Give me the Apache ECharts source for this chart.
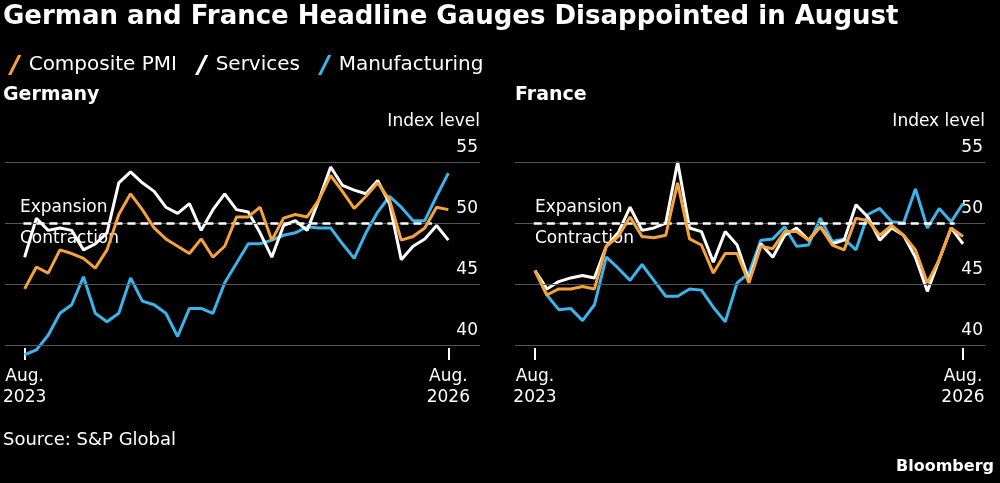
<!DOCTYPE html>
<html><head><meta charset="utf-8">
<script src="https://cdn.jsdelivr.net/npm/echarts@6/dist/echarts.min.js"></script>
<style>body{margin:0;background:#000}#c{width:1000px;height:483px}</style>
</head><body><div id="c"></div>
<script>
var xLabels = ['Aug.\n2023', 'Aug.\n2026'];
var yTicks = [40, 45, 50, 55];

var deComposite = [44.6,46.4,45.9,47.8,47.5,47.1,46.3,47.8,50.7,52.4,51.1,49.6,48.7,48.1,47.5,48.7,47.2,48.1,50.5,50.5,51.3,48.6,50.4,50.7,50.5,51.9,53.9,52.6,51.2,52.2,53.3,51.9,48.6,48.9,49.6,51.3,51.1];
var deServices = [47.2,50.4,49.4,49.6,49.4,47.8,48.3,49.2,53.3,54.2,53.3,52.6,51.3,50.8,51.6,49.4,51.1,52.4,51.1,50.9,49.2,47.2,49.8,50.2,49.4,51.9,54.6,53.1,52.7,52.4,53.5,51.6,47.0,48.1,48.7,49.8,48.6];
var deManufacturing = [39.2,39.6,40.8,42.6,43.3,45.6,42.6,41.9,42.6,45.5,43.6,43.3,42.6,40.7,43.0,43.0,42.6,45.1,46.7,48.3,48.3,48.6,49.0,49.2,49.7,49.6,49.6,48.3,47.1,49.2,50.9,52.2,51.3,50.2,50.2,52.2,54.1];

var frComposite = [46.1,44.1,44.6,44.6,44.8,44.6,48.1,48.9,50.5,48.9,48.8,49.0,53.3,48.7,48.2,45.9,47.5,47.5,45.1,48.1,47.9,49.3,49.3,48.6,49.7,48.2,47.8,50.4,50.2,49.0,49.8,49.0,47.8,45.1,47.0,49.6,48.9];
var frServices = [46.1,44.6,45.2,45.5,45.7,45.5,48.1,49.2,51.3,49.4,49.6,50.0,55.0,49.6,49.3,46.8,49.3,48.2,45.3,48.3,47.2,49.0,49.6,48.6,49.7,48.3,48.6,51.5,50.5,48.6,49.6,49.0,47.2,44.4,47.0,49.6,48.3];
var frManufacturing = [46.1,44.1,42.9,43.0,42.0,43.3,47.2,46.3,45.3,46.6,45.3,44.0,44.0,44.6,44.5,43.1,41.9,45.1,45.9,48.6,48.7,49.7,48.1,48.2,50.4,48.5,48.7,47.8,50.7,51.2,50.1,50.0,52.8,49.6,51.2,50.1,51.6];

var ORANGE = '#f6a23a', WHITE = '#ffffff', BLUE = '#3ab4ea';
var FONT = '"DejaVu Sans", sans-serif';
var last = deComposite.length - 1;

function pairs(arr) { return arr.map(function (v, i) { return [i, v]; }); }

function line(name, data, color, g) {
    return { name: name, type: 'line', xAxisIndex: g, yAxisIndex: g, data: pairs(data),
        symbol: 'none', lineStyle: { color: color, width: 3 }, itemStyle: { color: color }, z: color === BLUE ? 3 : (color === WHITE ? 4 : 5) };
}

function guide(g) {
    return { type: 'line', xAxisIndex: g, yAxisIndex: g, data: [], silent: true,
        markLine: { silent: true, symbol: 'none', label: { show: false },
            lineStyle: { color: '#555', type: 'solid', width: 1 },
            data: yTicks.map(function (t) { return { yAxis: t }; }).concat([
                [{ coord: [-0.1, 50], lineStyle: { color: '#fff', type: [8, 5], width: 2.5 } },
                 { coord: [g === 0 ? 34.6 : 35.3, 50] }]
            ]) } };
}

function xAx(g, max) {
    return { type: 'value', gridIndex: g, min: -1.68, max: max,
        axisLine: { show: false }, splitLine: { show: false },
        axisTick: { show: true, inside: true, length: 12, customValues: [0, last], lineStyle: { color: '#fff', width: 2 } },
        axisLabel: { customValues: [0, last], formatter: function (v) { return v === 0 ? xLabels[0] : xLabels[1]; },
            color: '#fff', fontSize: 17, fontFamily: FONT, lineHeight: 21, margin: 6 } };
}
function yAx(g) {
    return { type: 'value', gridIndex: g, min: 38.77, max: 55.5, position: 'right',
        splitLine: { show: false }, axisLine: { show: false }, axisTick: { show: false },
        axisLabel: { inside: true, customValues: yTicks, color: '#fff', fontSize: 17, fontFamily: FONT,
            verticalAlign: 'bottom', margin: 2, padding: [0, 0, 6, 0] } };
}

var chart = echarts.init(document.getElementById('c'));
chart.setOption({
    backgroundColor: '#000',
    animation: false,
    textStyle: { fontFamily: FONT },
    grid: [
        { left: 0, width: 480, top: 156, height: 204 },
        { left: 515, width: 470, top: 156, height: 204 }
    ],
    xAxis: [xAx(0, 38.69), xAx(1, 37.85)],
    yAxis: [yAx(0), yAx(1)],
    legend: { left: 3, top: 50, itemGap: 18, itemWidth: 14, itemHeight: 20,
        icon: 'path://M0,18L9,0L12,0L3,18Z',
        textStyle: { color: '#fff', fontSize: 20, fontFamily: FONT, padding: [0, 0, 0, 2] },
        data: ['Composite PMI', 'Services', 'Manufacturing'] },
    graphic: [
        { type: 'text', left: 3, top: 4, style: { text: 'German and France Headline Gauges Disappointed in August', fill: '#fff', font: 'bold 26px ' + FONT } },
        { type: 'text', left: 3, top: 86, style: { text: 'Germany', fill: '#fff', font: 'bold 19px ' + FONT } },
        { type: 'text', left: 515, top: 86, style: { text: 'France', fill: '#fff', font: 'bold 19px ' + FONT } },
        { type: 'text', right: 520, top: 113, style: { text: 'Index level', fill: '#fff', font: '17px ' + FONT } },
        { type: 'text', right: 15, top: 113, style: { text: 'Index level', fill: '#fff', font: '17px ' + FONT } },
        { type: 'text', left: 20, top: 199, style: { text: 'Expansion', fill: '#fff', font: '17px ' + FONT } },
        { type: 'text', left: 20, top: 230, style: { text: 'Contraction', fill: '#fff', font: '17px ' + FONT } },
        { type: 'text', left: 535, top: 199, style: { text: 'Expansion', fill: '#fff', font: '17px ' + FONT } },
        { type: 'text', left: 535, top: 230, style: { text: 'Contraction', fill: '#fff', font: '17px ' + FONT } },
        { type: 'text', left: 3, top: 431, style: { text: 'Source: S&P Global', fill: '#fff', font: '18px ' + FONT } },
        { type: 'text', right: 6, top: 459, style: { text: 'Bloomberg', fill: '#fff', font: 'bold 16px ' + FONT } }
    ],
    series: [
        guide(0), guide(1),
        line('Manufacturing', deManufacturing, BLUE, 0),
        line('Services', deServices, WHITE, 0),
        line('Composite PMI', deComposite, ORANGE, 0),
        line('Manufacturing', frManufacturing, BLUE, 1),
        line('Services', frServices, WHITE, 1),
        line('Composite PMI', frComposite, ORANGE, 1)
    ]
});
</script></body></html>
